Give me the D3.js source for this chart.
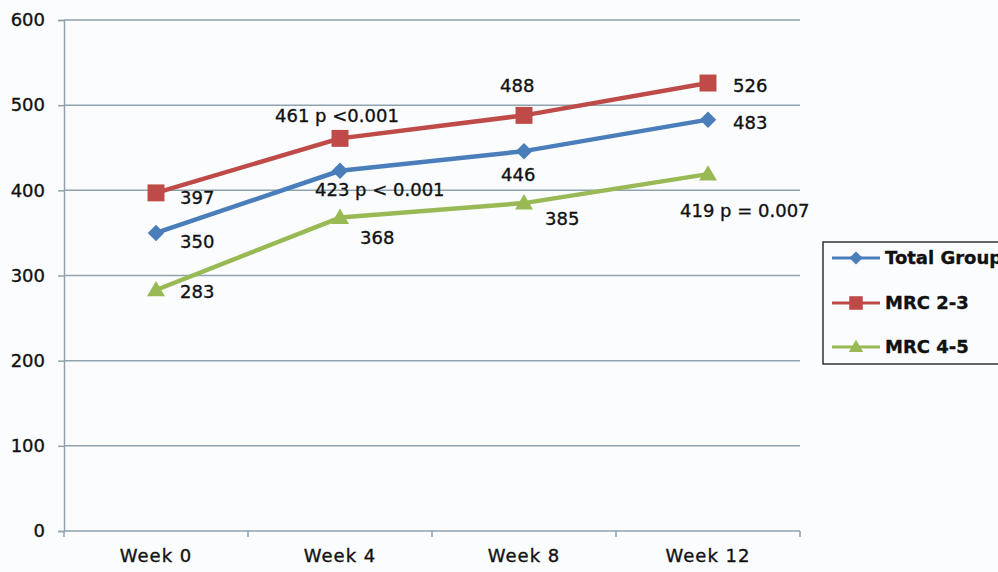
<!DOCTYPE html>
<html>
<head>
<meta charset="utf-8">
<script src="https://cdn.jsdelivr.net/npm/d3@7"></script>
<style>
  html, body { margin: 0; padding: 0; background: #fbfcfe; }
  svg { display: block; }
  text { font-family: "DejaVu Sans", Verdana, sans-serif; fill: #111; stroke: #111; stroke-width: 0.35px; }
</style>
</head>
<body>
<svg id="chart" width="998" height="572"></svg>
<script>
// ---- data ----
const categories = ["Week 0", "Week 4", "Week 8", "Week 12"];
const seriesNames = ["Total Group", "MRC 2-3", "MRC 4-5"];
const totalGroup = [350, 423, 446, 483];
const mrc23 = [397, 461, 488, 526];
const mrc45 = [283, 368, 385, 419];
const yTicks = [0, 100, 200, 300, 400, 500, 600];
// extra annotation text after the value labels (series index, category index, text)
const pAnnotations = [
  [0, 1, "p < 0.001"],
  [1, 1, "p <0.001"],
  [2, 3, "p = 0.007"]
];

// ---- styling / placement ----
const colors = ["#4a7ebb", "#be4b48", "#98b954"];
const shapes = ["diamond", "square", "triangle"];
// label offsets relative to each point [dx, dy]
const labelOffsets = [
  [[24, 9], [-25, 19], [-23, 23], [25, 3]],
  [[24, 5], [-65, -23], [-24, -30], [25, 2]],
  [[24, 2], [20, 20], [21, 15], [-28, 36]]
];

const allSeries = [totalGroup, mrc23, mrc45];
const svg = d3.select("#chart");
const margin = { left: 64, top: 20, right: 800, bottom: 531 };

const x = d3.scaleBand().domain(categories).range([margin.left, margin.right]);
const y = d3.scaleLinear().domain([0, 600]).range([margin.bottom, margin.top]);
const gridColor = "#8fa2ae";

// gridlines
svg.append("g").selectAll("line").data(yTicks.filter(d => d > 0)).join("line")
  .attr("x1", margin.left).attr("x2", margin.right)
  .attr("y1", d => y(d)).attr("y2", d => y(d))
  .attr("stroke", gridColor).attr("stroke-width", 1.5);

// y axis
const yAxis = d3.axisLeft(y).tickValues(yTicks).tickSize(6).tickPadding(13).tickFormat(d3.format("d"));
const gy = svg.append("g").attr("transform", `translate(${margin.left},0)`).call(yAxis);
gy.select(".domain").attr("stroke", gridColor).attr("stroke-width", 1.5);
gy.selectAll(".tick line").attr("stroke", gridColor).attr("stroke-width", 1.5);
gy.selectAll(".tick text").style("font-size", "18px").style("font-family", "DejaVu Sans").attr("fill", "#111");

// x axis
const xAxis = d3.axisBottom(x).tickSize(0).tickPadding(18);
const gx = svg.append("g").attr("transform", `translate(0,${margin.bottom})`).call(xAxis);
gx.select(".domain").attr("stroke", gridColor).attr("stroke-width", 1.5).attr("d", `M${margin.left},0H${margin.right}`);
gx.selectAll(".tick text").style("font-size", "18px").style("font-family", "DejaVu Sans")
  .style("letter-spacing", "1px").attr("fill", "#111");
// boundary tick marks
const bounds = categories.map(c => x(c)).concat([x.range()[1]]);
gx.append("g").selectAll("line").data(bounds).join("line")
  .attr("x1", d => d).attr("x2", d => d).attr("y1", 0).attr("y2", 6)
  .attr("stroke", gridColor).attr("stroke-width", 1.5);

const cx = c => x(c) + x.bandwidth() / 2;

function drawMarker(g, shape, color, px, py, s) {
  if (shape === "square") {
    const q = s * 1.13;
    g.append("rect").attr("x", px - q / 2).attr("y", py - q / 2).attr("width", q).attr("height", q)
      .attr("fill", color);
  } else if (shape === "diamond") {
    const r = s * 0.55;
    g.append("path").attr("d", `M${px},${py - r}L${px + r},${py}L${px},${py + r}L${px - r},${py}Z`).attr("fill", color);
  } else {
    const r = s * 0.6;
    g.append("path").attr("d", `M${px},${py - r}L${px + r},${py + r * 0.7}L${px - r},${py + r * 0.7}Z`).attr("fill", color);
  }
}

const line = d3.line().x((d, i) => cx(categories[i])).y(d => y(d));

allSeries.forEach((vals, si) => {
  const g = svg.append("g");
  g.append("path").datum(vals).attr("d", line).attr("fill", "none")
    .attr("stroke", colors[si]).attr("stroke-width", 4.5).attr("stroke-linejoin", "round");
  vals.forEach((v, i) => drawMarker(g, shapes[si], colors[si], cx(categories[i]), y(v), 15));
});

// data labels
allSeries.forEach((vals, si) => {
  vals.forEach((v, i) => {
    const ann = pAnnotations.find(a => a[0] === si && a[1] === i);
    const txt = ann ? `${v} ${ann[2]}` : `${v}`;
    const [dx, dy] = labelOffsets[si][i];
    svg.append("text").attr("x", cx(categories[i]) + dx).attr("y", y(v) + dy)
      .attr("dy", "0.36em").style("font-size", "18px").text(txt);
  });
});

// legend
const lg = svg.append("g");
lg.append("rect").attr("x", 823).attr("y", 242).attr("width", 190).attr("height", 122)
  .attr("fill", "#fbfcfe").attr("stroke", "#333").attr("stroke-width", 1.5);
const legendY = [258, 303, 347];
seriesNames.forEach((name, si) => {
  const ly = legendY[si];
  lg.append("line").attr("x1", 832).attr("x2", 880).attr("y1", ly).attr("y2", ly)
    .attr("stroke", colors[si]).attr("stroke-width", 3);
  drawMarker(lg, shapes[si], colors[si], 856, ly, 12);
  lg.append("text").attr("x", 885).attr("y", ly).attr("dy", "0.36em")
    .style("font-size", "18px").style("font-weight", "bold").text(name);
});
</script>
</body>
</html>
